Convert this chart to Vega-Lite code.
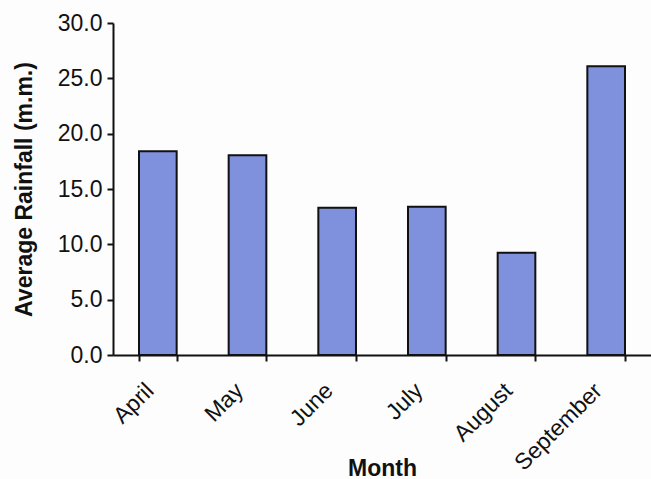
{
  "$schema": "https://vega.github.io/schema/vega-lite/v6.json",
  "width": 538,
  "height": 332,
  "autosize": {"type": "none"},
  "padding": {"left": 113, "top": 23, "right": 0, "bottom": 124},
  "background": "#fdfdfe",
  "config": {"view": {"stroke": null}},
  "data": {"values": [
    {"Month": "April", "Rainfall": 18.4},
    {"Month": "May", "Rainfall": 18.05},
    {"Month": "June", "Rainfall": 13.3},
    {"Month": "July", "Rainfall": 13.4},
    {"Month": "August", "Rainfall": 9.25},
    {"Month": "September", "Rainfall": 26.1}
  ]},
  "mark": {"type": "bar", "color": "#7f90dd", "stroke": "#111111", "strokeWidth": 2},
  "encoding": {
    "x": {
      "field": "Month", "type": "nominal", "sort": null,
      "scale": {"paddingInner": 0.58, "paddingOuter": 0.29},
      "axis": {
        "title": "Month", "titleFont": "Liberation Sans", "titleFontSize": 23, "titleFontWeight": "bold", "titleColor": "#111",
        "titleY": 120, "titleBaseline": "alphabetic",
        "labelAngle": -45, "labelAlign": "right", "labelBaseline": "top",
        "labelFont": "Liberation Sans", "labelFontSize": 23, "labelColor": "#111",
        "labelPadding": 18, "labelOffset": -16,
        "tickBand": "extent", "tickSize": 6, "tickWidth": 2, "tickColor": "#111",
        "domainColor": "#111", "domainWidth": 2, "grid": false
      }
    },
    "y": {
      "field": "Rainfall", "type": "quantitative",
      "scale": {"domain": [0, 30], "nice": false},
      "axis": {
        "title": "Average Rainfall (m.m.)", "titleFont": "Liberation Sans", "titleFontSize": 23, "titleFontWeight": "bold", "titleColor": "#111",
        "titlePadding": 21,
        "values": [0, 5, 10, 15, 20, 25, 30], "format": ".1f",
        "labelFont": "Liberation Sans", "labelFontSize": 23, "labelColor": "#111", "labelPadding": 5,
        "tickSize": 6, "tickWidth": 2, "tickColor": "#111",
        "domainColor": "#111", "domainWidth": 2, "grid": false
      }
    }
  }
}
